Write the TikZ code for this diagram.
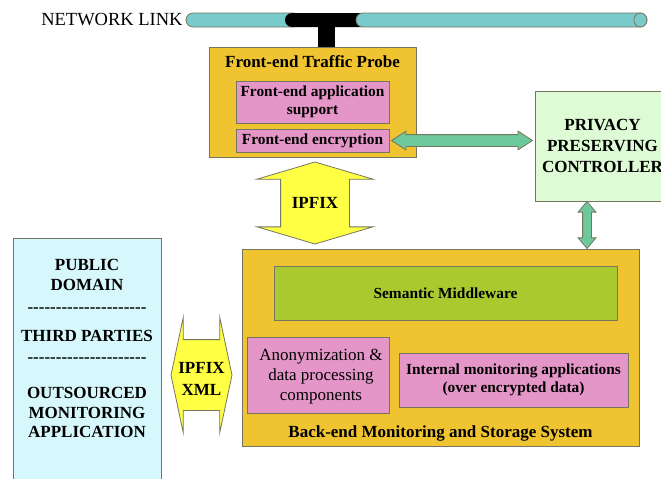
\documentclass[tikz,border=0pt]{standalone}
\usepackage{fontspec}
\setmainfont{Liberation Serif}
\usepackage{tikz}
\usetikzlibrary{positioning,calc,shapes.arrows}
\definecolor{probeGold}{RGB}{240,196,48}
\definecolor{compPink}{RGB}{229,150,200}
\definecolor{midGreen}{RGB}{168,202,47}
\definecolor{ctrlGreen}{RGB}{221,251,212}
\definecolor{pubCyan}{RGB}{214,248,252}
\definecolor{ipfixYellow}{RGB}{255,255,68}
\definecolor{linkMint}{RGB}{109,201,155}
\definecolor{pipeCyan}{RGB}{121,203,203}
\definecolor{edgeGray}{RGB}{118,118,96}
\newcommand{\linkfont}{\fontsize{18.5}{22}\selectfont}
\newcommand{\bigbold}{\fontsize{17}{20}\selectfont\bfseries}
\newcommand{\midbold}{\fontsize{15.4}{18}\selectfont\bfseries}
\newcommand{\anonfont}{\fontsize{17}{20}\selectfont}
\newcommand{\hyphenrow}{\foreach \k in {1,...,21}{-{}}}

\begin{document}
\begin{tikzpicture}[x=1pt,y=-1pt,
      line width=0.8pt,
      plainbox/.style={draw=edgeGray, inner sep=0pt},
      goldbox/.style={plainbox, fill=probeGold},
      pinkbox/.style={plainbox, fill=compPink, align=center},
      bigtext/.style={font=\bigbold, inner sep=0pt, align=center},
      midtext/.style={font=\midbold},
      fatarrow/.style={double arrow, draw=edgeGray, inner xsep=0pt},
      pipe/.style={fill=pipeCyan, draw=edgeGray, inner sep=0pt,
         minimum height=14, rounded corners=7}
      ]
      \useasboundingbox (0,0) rectangle (661,479);

      % network link with tap
      \node[font=\linkfont, anchor=east, inner sep=0pt] (linktext) at (183,20) {NETWORK LINK};
      \node[pipe, minimum width=114] (pipeleft) at (243,20) {};
      \node[fill=black, rounded corners=7, inner sep=0pt,
         minimum width=83, minimum height=14] (tap) at (326.5,20) {};
      \node[pipe, minimum width=291] (pipe) at (501.5,20) {};
      \draw[fill=pipeCyan, draw=edgeGray] ($(pipe.east)+(-7,0)$) ellipse [x radius=6.5, y radius=7];

      % front-end probe
      \node[goldbox, minimum width=207, minimum height=110] (probe) at (312.5,102) {};
      \node[bigtext, below=9pt of probe.north] (probetitle) {Front-end Traffic Probe};
      \node[pinkbox, midtext, minimum width=153, minimum height=42] (app) at (312.5,102)
         {Front-end application\\support};
      \node[pinkbox, midtext, minimum width=153, minimum height=23] (enc) at (312.5,140.5)
         {Front-end encryption};
      \draw[line width=17pt] (tap.south) -- (tap.south |- probe.north);

      % controller
      \node[plainbox, fill=ctrlGreen, minimum width=135, minimum height=110,
         font=\fontsize{17}{21}\selectfont\bfseries, align=center] (ctrl) at (602.5,146)
         {PRIVACY\\PRESERVING\\CONTROLLER};

      % back-end
      \node[goldbox, minimum width=397, minimum height=197] (back) at (440.5,347.5) {};
      \node[bigtext, above=4.5pt of back.south] (backtitle) {Back-end Monitoring and Storage System};
      \node[plainbox, fill=midGreen, midtext, minimum width=343, minimum height=54] (sem)
         at (445.5,293) {Semantic Middleware};
      \node[pinkbox, font=\anonfont, minimum width=142, minimum height=76] (anon) at (318,375) {};
      \node[font=\anonfont, align=center, inner sep=0pt] (anontext) at (321,377)
         {Anonymization \&\\data processing\\components};
      \node[pinkbox, midtext, minimum width=229, minimum height=54] (intm) at (513.5,380)
         {Internal monitoring applications\\(over encrypted data)};

      % public side
      \node[plainbox, fill=pubCyan, anchor=north, minimum width=148, minimum height=260] (pub)
         at (87,238) {};
      \node[bigtext, below=21pt of pub.north] (pubtext)
         {PUBLIC\\DOMAIN\\[1.5pt]\hyphenrow\\[9.5pt]THIRD PARTIES\\[0.5pt]\hyphenrow\\[16.5pt]%
          OUTSOURCED\\MONITORING\\[-1pt]APPLICATION};

      % exchanges
      \node[fatarrow, fill=ipfixYellow, rotate=90, minimum height=82, inner ysep=34,
         minimum width=115, double arrow head extend=23.5, double arrow tip angle=147] (ipfix)
         at ($(probe.south)!0.5!(probe.south |- back.north)+(2.5,0)$) {};
      \node[bigtext] (ipfixtext) at (ipfix) {IPFIX};
      \node[fatarrow, fill=ipfixYellow, minimum height=61, minimum width=114, inner ysep=35,
         double arrow head extend=22, double arrow tip angle=156] (xml)
         at ($(pub.east |- anon.center)!0.5!(back.west |- anon.center)$) {};
      \node[bigtext] (xmltext) at ($(xml)+(0,4)$) {IPFIX\\[2pt]XML};
      \node[fatarrow, fill=linkMint, minimum height=141, minimum width=18, inner ysep=5.5,
         double arrow head extend=3.5, double arrow tip angle=66] (encarrow)
         at ($(enc.east)!0.5!(enc.east -| ctrl.west)$) {};
      \node[fatarrow, fill=linkMint, rotate=90, minimum height=47, inner ysep=4,
         minimum width=17, double arrow head extend=4.5, double arrow tip angle=80] (ctrlarrow)
         at ($(ctrl.south)!0.5!(ctrl.south |- back.north)+(-15.5,0)$) {};
\end{tikzpicture}
\end{document}
